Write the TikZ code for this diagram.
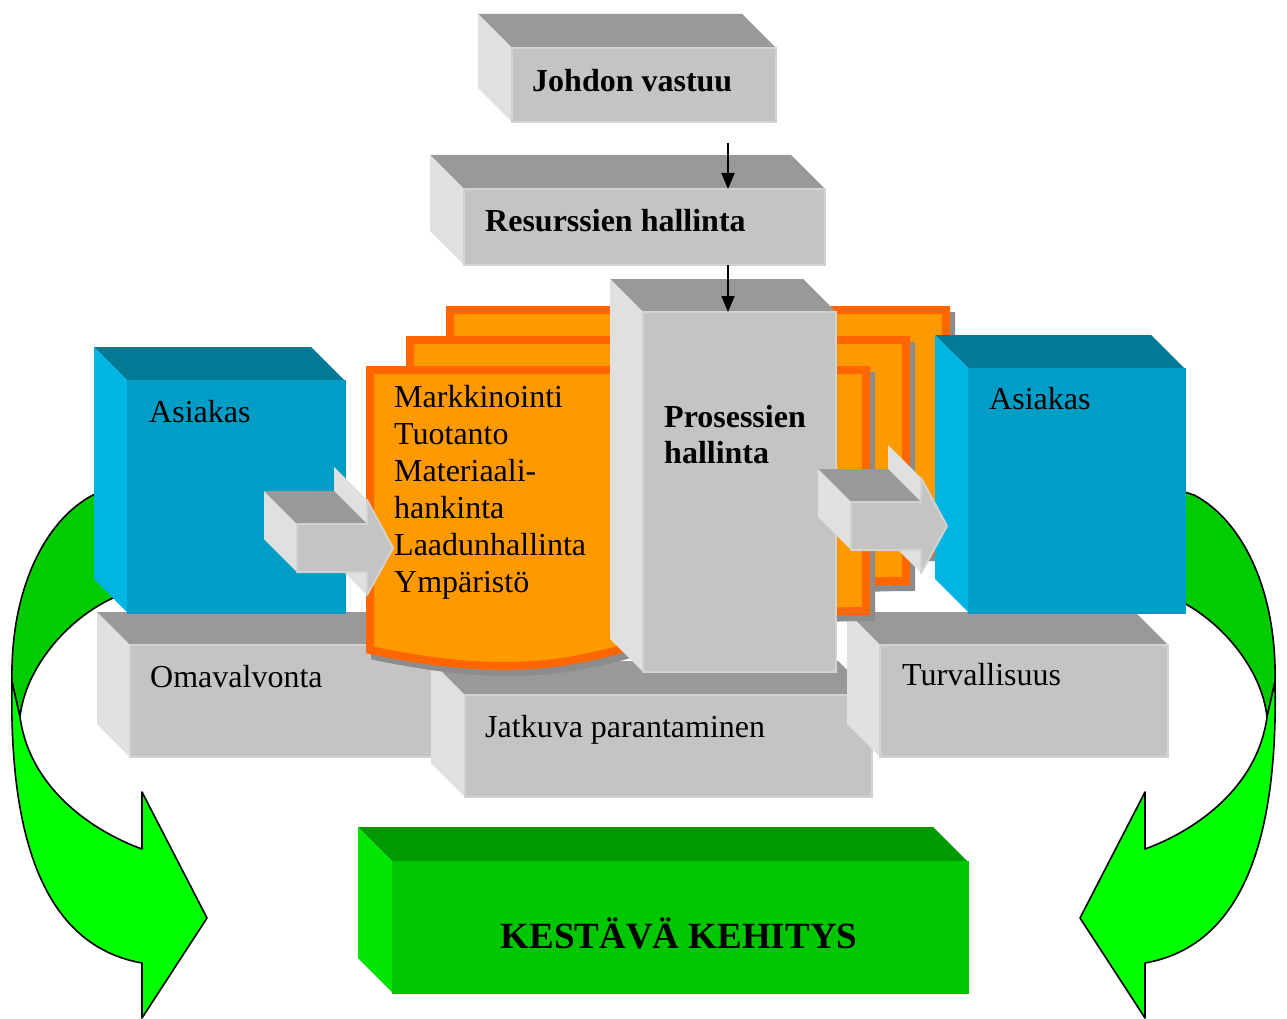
\documentclass[tikz,border=0pt]{standalone}
\usepackage{fontspec}
\setmainfont{Liberation Serif}
\usetikzlibrary{arrows.meta}
\definecolor{grT}{HTML}{999999}
\definecolor{grL}{HTML}{E0E0E0}
\definecolor{grF}{HTML}{C4C4C4}
\definecolor{grE}{HTML}{D2D2D2}
\definecolor{blT}{HTML}{007A96}
\definecolor{blL}{HTML}{00B5E2}
\definecolor{blF}{HTML}{009DC6}
\definecolor{blE}{HTML}{009DC6}
\definecolor{gnT}{HTML}{009900}
\definecolor{gnL}{HTML}{00E600}
\definecolor{gnF}{HTML}{00C800}
\definecolor{gnE}{HTML}{00C800}
\definecolor{orF}{HTML}{FF9900}
\definecolor{orB}{HTML}{FF6600}
\definecolor{shd}{HTML}{8C8C8C}
\definecolor{arLight}{HTML}{00FF00}
\definecolor{arDark}{HTML}{00CC00}
% x1,y1,x2,y2 (front face), depth, colour prefix
\newcommand\cuboid[6]{%
  \fill[#6T] (#1,#2) -- ({#1-#5},{#2-#5}) -- ({#3-#5},{#2-#5}) -- (#3,#2) -- cycle;
  \fill[#6L] (#1,#2) -- ({#1-#5},{#2-#5}) -- ({#1-#5},{#4-#5}) -- (#1,#4) -- cycle;
  \filldraw[fill=#6F, draw=#6E, line width=1.5pt] (#1,#2) rectangle (#3,#4);
}
% small 3D block arrow, shaft front top-left corner
\newcommand\blockarrow[2]{%
  \fill[grL] ({#1+37},{#2-57}) -- ({#1+70},{#2-24}) -- ({#1+70},{#2+71}) -- ({#1+37},{#2+38}) -- cycle;
  \fill[grT] ({#1-33},{#2-33}) -- ({#1+37},{#2-33}) -- ({#1+70},{#2}) -- (#1,#2) -- cycle;
  \fill[grL] ({#1-33},{#2-33}) -- (#1,#2) -- (#1,{#2+48}) -- ({#1-33},{#2+15}) -- cycle;
  \filldraw[fill=grF, draw=grE, line width=2pt, line join=round] (#1,#2) -- ({#1+70},#2) -- ({#1+70},{#2-24}) -- ({#1+96},{#2+24}) -- ({#1+70},{#2+71}) -- ({#1+70},{#2+48}) -- (#1,{#2+48}) -- cycle;
}
% document layer
\newcommand\docshape[2]{%
  \filldraw[fill=shd, draw=shd, line width=8pt] ({#1+5},{#2+6}) -- ({#1+501},{#2+6}) -- ({#1+501},{#2+247}) .. controls ({#1+253},{#2+247}) and ({#1+253},{#2+338}) .. ({#1+5},{#2+286}) -- cycle;
  \filldraw[fill=orF, draw=orB, line width=8pt] (#1,#2) -- ({#1+496},#2) -- ({#1+496},{#2+241}) .. controls ({#1+248},{#2+241}) and ({#1+248},{#2+332}) .. (#1,{#2+280}) -- cycle;
}
% curved green arrow (left version)
\newcommand\greenarrow{%
  \filldraw[gline, fill=arDark] (12,682) .. controls (10,590) and (45,520) .. (93,495) -- (170,470) -- (200,545) -- (113,598) .. controls (65,620) and (25,670) .. (20,717) -- cycle;
  \filldraw[gline, fill=arLight] (12,682) .. controls (9,830) and (40,945) .. (142,963) -- (142,1018) -- (207,918) -- (142,792) -- (142,849) .. controls (95,832) and (30,790) .. (20,717) -- cycle;
}
\begin{document}
\begin{tikzpicture}[x=1pt,y=-1pt,
  lbl/.style={anchor=base west, inner sep=0pt, font=\fontsize{32}{37}\selectfont},
  blbl/.style={anchor=base west, inner sep=0pt, font=\fontsize{32}{37}\selectfont\bfseries},
  conn/.style={line width=2pt, -{Triangle[length=16pt,width=13pt]}},
  gline/.style={draw=black, line width=1.6pt, line join=round}]
\useasboundingbox[fill=white] (0,0) rectangle (1287,1019);

% green curved arrows
\greenarrow
\begin{scope}[xshift=1287pt, xscale=-1]
  \greenarrow
\end{scope}

% top boxes
\cuboid{512}{48}{776}{122}{34}{gr}
\cuboid{464}{189}{825}{265}{34}{gr}

% lower gray boxes
\cuboid{130}{645}{470}{757}{33}{gr}
\cuboid{465}{695}{872}{797}{34}{gr}
\cuboid{880}{645}{1168}{757}{33}{gr}

% orange documents
\docshape{450}{310}
\docshape{410}{340}
\docshape{370}{370}

% process column
\cuboid{643}{312}{836}{672}{33}{gr}

% customer boxes
\cuboid{128}{381}{345}{613}{34}{bl}
\cuboid{969}{369}{1185}{613}{34}{bl}

% small block arrows
\blockarrow{297}{524}
\blockarrow{851}{502}

% sustainable development
\cuboid{393}{862}{968}{993}{35}{gn}

% connectors
\coordinate (a1s) at (728,143);
\coordinate (a1e) at (728,189);
\coordinate (a2s) at (728,265);
\coordinate (a2e) at (728,312);
\draw[conn] (a1s) -- (a1e);
\draw[conn] (a2s) -- (a2e);

% texts
\node[blbl] (tJ) at (532,92) {Johdon vastuu};
\node[blbl] (tR) at (485,231) {Resurssien hallinta};
\node[blbl] (tP1) at (664,427) {Prosessien};
\node[blbl] (tP2) at (664,463) {hallinta};
\node[lbl] (m1) at (394,407) {Markkinointi};
\node[lbl] (m2) at (394,444) {Tuotanto};
\node[lbl] (m3) at (394,481) {Materiaali-};
\node[lbl] (m4) at (394,518) {hankinta};
\node[lbl] (m5) at (394,555) {Laadunhallinta};
\node[lbl] (m6) at (394,592) {Ympäristö};
\node[lbl] (tA1) at (149,422) {Asiakas};
\node[lbl] (tA2) at (989,409) {Asiakas};
\node[lbl] (tO) at (150,687) {Omavalvonta};
\node[lbl] (tT) at (902,685) {Turvallisuus};
\node[lbl] (tJP) at (485,737) {Jatkuva parantaminen};
\node[anchor=base, inner sep=0pt, font=\fontsize{37}{41}\selectfont\bfseries] (tK) at (679,948) {KESTÄVÄ KEHITYS};
\end{tikzpicture}
\end{document}
